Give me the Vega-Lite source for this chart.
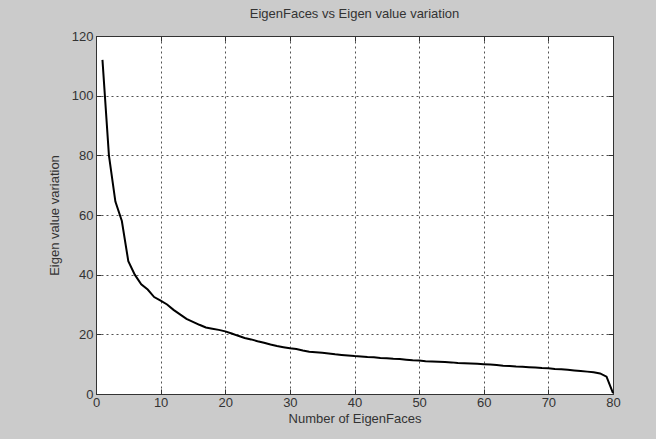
{
  "$schema": "https://vega.github.io/schema/vega-lite/v6.json",
  "width": 517,
  "height": 358,
  "autosize": "none",
  "padding": {"left": 96, "top": 36, "right": 43, "bottom": 45},
  "background": "#cbcbcb",
  "title": {"text": "EigenFaces vs Eigen value variation", "fontSize": 13, "font": "Liberation Sans", "fontWeight": "normal", "color": "#333", "offset": 9},
  "config": {
    "view": {"fill": "white", "stroke": "#333", "strokeWidth": 1},
    "axis": {"labelFont": "Liberation Sans", "titleFont": "Liberation Sans", "labelFontSize": 13, "titleFontSize": 13, "titleFontWeight": "normal", "labelColor": "#333", "titleColor": "#333", "domainColor": "#333", "tickColor": "#333", "gridColor": "#333", "gridDash": [2, 3], "gridOpacity": 0.85}
  },
  "data": {"values": [
    {"n": 1, "v": 112}, {"n": 2, "v": 80}, {"n": 3, "v": 64.5}, {"n": 4, "v": 58}, {"n": 5, "v": 44.5},
    {"n": 6, "v": 40}, {"n": 7, "v": 36.8}, {"n": 8, "v": 35}, {"n": 9, "v": 32.5}, {"n": 10, "v": 31.3},
    {"n": 11, "v": 30}, {"n": 12, "v": 28.2}, {"n": 13, "v": 26.7}, {"n": 14, "v": 25.2}, {"n": 15, "v": 24.2},
    {"n": 16, "v": 23.2}, {"n": 17, "v": 22.3}, {"n": 18, "v": 21.9}, {"n": 19, "v": 21.5}, {"n": 20, "v": 21},
    {"n": 21, "v": 20.3}, {"n": 22, "v": 19.5}, {"n": 23, "v": 18.8}, {"n": 24, "v": 18.3}, {"n": 25, "v": 17.7},
    {"n": 26, "v": 17.2}, {"n": 27, "v": 16.6}, {"n": 28, "v": 16.1}, {"n": 29, "v": 15.7}, {"n": 30, "v": 15.3},
    {"n": 31, "v": 15.1}, {"n": 32, "v": 14.6}, {"n": 33, "v": 14.2}, {"n": 34, "v": 14.0}, {"n": 35, "v": 13.8},
    {"n": 36, "v": 13.6}, {"n": 37, "v": 13.3}, {"n": 38, "v": 13.1}, {"n": 39, "v": 12.9}, {"n": 40, "v": 12.7},
    {"n": 41, "v": 12.6}, {"n": 42, "v": 12.4}, {"n": 43, "v": 12.3}, {"n": 44, "v": 12.1}, {"n": 45, "v": 12.0},
    {"n": 46, "v": 11.8}, {"n": 47, "v": 11.7}, {"n": 48, "v": 11.5}, {"n": 49, "v": 11.3}, {"n": 50, "v": 11.2},
    {"n": 51, "v": 11.0}, {"n": 52, "v": 10.9}, {"n": 53, "v": 10.8}, {"n": 54, "v": 10.7}, {"n": 55, "v": 10.6},
    {"n": 56, "v": 10.4}, {"n": 57, "v": 10.3}, {"n": 58, "v": 10.2}, {"n": 59, "v": 10.1}, {"n": 60, "v": 10.0},
    {"n": 61, "v": 9.9}, {"n": 62, "v": 9.7}, {"n": 63, "v": 9.5}, {"n": 64, "v": 9.4}, {"n": 65, "v": 9.2},
    {"n": 66, "v": 9.1}, {"n": 67, "v": 9.0}, {"n": 68, "v": 8.9}, {"n": 69, "v": 8.7}, {"n": 70, "v": 8.6},
    {"n": 71, "v": 8.4}, {"n": 72, "v": 8.3}, {"n": 73, "v": 8.1}, {"n": 74, "v": 7.9}, {"n": 75, "v": 7.7},
    {"n": 76, "v": 7.5}, {"n": 77, "v": 7.3}, {"n": 78, "v": 6.9}, {"n": 79, "v": 5.8}, {"n": 80, "v": 0.3}
  ]},
  "layer": [
    {
      "mark": {"type": "line", "color": "black", "strokeWidth": 2},
      "encoding": {
        "x": {"field": "n", "type": "quantitative", "scale": {"domain": [0, 80], "nice": false, "zero": false},
              "axis": {"values": [0, 10, 20, 30, 40, 50, 60, 70, 80], "title": "Number of EigenFaces", "grid": true, "tickSize": -5, "labelPadding": 7, "titlePadding": 3, "labelFlush": false}},
        "y": {"field": "v", "type": "quantitative", "scale": {"domain": [0, 120], "nice": false},
              "axis": {"values": [0, 20, 40, 60, 80, 100, 120], "title": "Eigen value variation", "grid": true, "tickSize": -5, "labelPadding": 8, "titlePadding": 10, "labelFlush": false}}
      }
    },
    {
      "mark": {"type": "line", "opacity": 0},
      "encoding": {
        "x": {"field": "n", "type": "quantitative", "axis": {"orient": "top", "values": [0, 10, 20, 30, 40, 50, 60, 70, 80], "labels": false, "title": null, "grid": false, "domain": false, "tickSize": -5}},
        "y": {"field": "v", "type": "quantitative", "axis": {"orient": "right", "values": [0, 20, 40, 60, 80, 100, 120], "labels": false, "title": null, "grid": false, "domain": false, "tickSize": -5}}
      }
    }
  ],
  "resolve": {"axis": {"x": "independent", "y": "independent"}}
}
